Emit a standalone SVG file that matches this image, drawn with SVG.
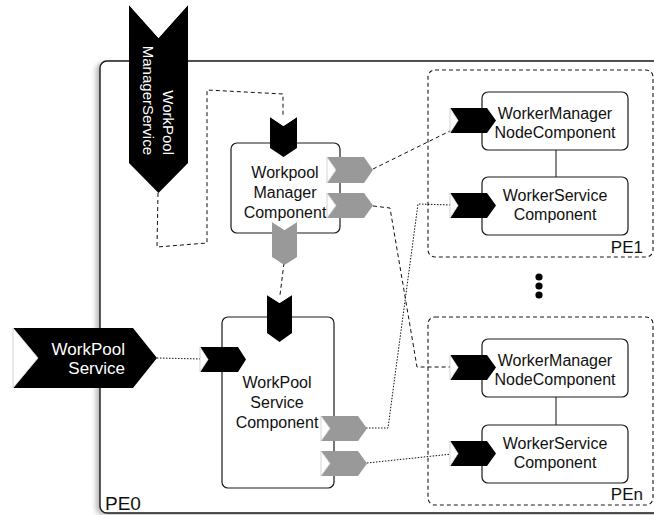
<svg xmlns="http://www.w3.org/2000/svg" width="654" height="515" viewBox="0 0 654 515">
  <style>
    text { font-family: "Liberation Sans", Arial, Helvetica, sans-serif; font-size: 16px; fill: #111; }
    .box { fill: #fff; stroke: #1a1a1a; stroke-width: 1.2; }
    .pe { fill: none; stroke: #1a1a1a; stroke-width: 1.1; stroke-dasharray: 4 3; }
    .port-black { fill: #000; }
    .port-grey { fill: #999; }
    .notch { fill: #fff; stroke: #c8c8c8; stroke-width: 0.8; }
    .dash { fill: none; stroke: #111; stroke-width: 1; stroke-dasharray: 4 3; }
    .dot { fill: none; stroke: #111; stroke-width: 1; stroke-dasharray: 1.5 1.5; }
    .solid { fill: none; stroke: #111; stroke-width: 1; }
    .white { fill: #fff; }
    .label { font-size: 17px; }
    .pe0-label { font-size: 19px; }
    .svc-v { font-size: 15px; }
    .svc-h { font-size: 17px; }
  </style>
  <defs>
    <filter id="shadow" x="-5%" y="-5%" width="110%" height="110%">
      <feGaussianBlur stdDeviation="2.5"/>
    </filter>
  </defs>

  <!-- Outer processing element PE0 -->
  <g id="pe0">
    <rect x="96" y="63" width="580" height="452" rx="7" fill="#888" opacity="0.6" filter="url(#shadow)"/>
    <rect x="100" y="61" width="580" height="452" rx="7" fill="#fff" stroke="#1a1a1a" stroke-width="1.4"/>
    <text x="105" y="510" class="pe0-label">PE0</text>
  </g>

  <!-- Remote processing elements -->
  <g id="pe1">
    <rect class="pe" x="428" y="70" width="225" height="187" rx="7"/>
    <text x="643" y="253" class="label" text-anchor="end">PE1</text>
  </g>
  <g id="pen">
    <rect class="pe" x="428" y="317" width="225" height="188" rx="7"/>
    <text x="643" y="500" class="label" text-anchor="end">PEn</text>
  </g>

  <!-- Ellipsis between PE1 and PEn -->
  <g id="ellipsis">
    <circle cx="539" cy="277" r="3.6" fill="#000"/>
    <circle cx="539" cy="286" r="3.6" fill="#000"/>
    <circle cx="539" cy="295" r="3.6" fill="#000"/>
  </g>

  <!-- Components -->
  <g id="workpool-manager-component">
    <rect class="box" x="231" y="143" width="109" height="90" rx="6"/>
    <text x="285" y="178" text-anchor="middle">Workpool</text>
    <text x="285" y="198" text-anchor="middle">Manager</text>
    <text x="285" y="218" text-anchor="middle">Component</text>
  </g>

  <g id="workpool-service-component">
    <rect class="box" x="222" y="317" width="112" height="171" rx="6"/>
    <text x="277" y="388" text-anchor="middle">WorkPool</text>
    <text x="277" y="408" text-anchor="middle">Service</text>
    <text x="277" y="428" text-anchor="middle">Component</text>
  </g>

  <g id="pe1-worker-manager">
    <rect class="box" x="482" y="92" width="146" height="58" rx="6"/>
    <text x="555" y="119" text-anchor="middle">WorkerManager</text>
    <text x="555" y="138" text-anchor="middle">NodeComponent</text>
  </g>
  <g id="pe1-worker-service">
    <rect class="box" x="482" y="177" width="146" height="58" rx="6"/>
    <text x="555" y="201" text-anchor="middle">WorkerService</text>
    <text x="555" y="220" text-anchor="middle">Component</text>
  </g>

  <g id="pen-worker-manager">
    <rect class="box" x="482" y="339" width="146" height="58" rx="6"/>
    <text x="555" y="366" text-anchor="middle">WorkerManager</text>
    <text x="555" y="385" text-anchor="middle">NodeComponent</text>
  </g>
  <g id="pen-worker-service">
    <rect class="box" x="482" y="425" width="146" height="58" rx="6"/>
    <text x="555" y="449" text-anchor="middle">WorkerService</text>
    <text x="555" y="468" text-anchor="middle">Component</text>
  </g>

  <!-- Connectors -->
  <g id="connectors">
    <path class="solid" d="M556,150 L556,177"/>
    <path class="solid" d="M556,397 L556,425"/>
    <path class="dash" d="M158,193 L157,247 L207,243 L207,90 L283,94 L283,124"/>
    <path class="dash" d="M284,263 L279,303"/>
    <path class="dash" d="M373,169 L452,130"/>
    <path class="dash" d="M373,206 L390,208 L417,367 L452,367"/>
    <path class="dot" d="M360,428 L388,428 L418,204 L452,205"/>
    <path class="dot" d="M367,463 L452,454"/>
    <path class="dot" d="M157,358 L202,359"/>
  </g>

  <!-- Service ports -->
  <g id="workpool-manager-service">
    <polygon class="port-black" points="129,5 158.5,38 188,5 188,163 158.5,193 129,163"/>
    <polygon class="white" points="129,5 158.5,38 188,5"/>
    <g transform="translate(163,155) rotate(90)">
      <text class="white svc-v" text-anchor="end">WorkPool</text>
      <text class="white svc-v" text-anchor="end" y="20">ManagerService</text>
    </g>
  </g>

  <g id="workpool-service">
    <polygon class="port-black" points="13,328 133,328 157,358 133,388 13,388 38,358"/>
    <polygon class="notch" points="13,328 38,358 13,388"/>
    <text class="white svc-h" x="125" y="355" text-anchor="end">WorkPool</text>
    <text class="white svc-h" x="125" y="374" text-anchor="end">Service</text>
  </g>

  <!-- Component ports -->
  <g id="manager-ports">
    <polygon class="port-black" points="270,117 283.5,126 297,117 297,148 283.5,157 270,148"/>
    <polygon class="white" points="270,117 283.5,126 297,117"/>
    <polygon class="port-grey" points="327,157 364,157 373,170 364,183 327,183 336,170"/>
    <polygon class="notch" points="327,157 336,170 327,183"/>
    <polygon class="port-grey" points="327,193 364,193 373,205.5 364,218 327,218 336,205.5"/>
    <polygon class="notch" points="327,193 336,205.5 327,218"/>
    <polygon class="port-grey" points="272,222 284.5,230 297,222 297,257 284.5,265 272,257"/>
    <polygon class="white" points="272,222 284.5,230 297,222"/>
  </g>

  <g id="service-ports">
    <polygon class="port-black" points="267,295 279.5,303 292,295 292,333 279.5,342 267,333"/>
    <polygon class="white" points="267,295 279.5,303 292,295"/>
    <polygon class="port-black" points="200,347 238,347 246,359.5 238,372 200,372 208,359.5"/>
    <polygon class="notch" points="200,347 208,359.5 200,372"/>
    <polygon class="port-grey" points="321,416 358,416 367,428.5 358,441 321,441 330,428.5"/>
    <polygon class="notch" points="321,416 330,428.5 321,441"/>
    <polygon class="port-grey" points="321,451 358,451 367,463.5 358,476 321,476 330,463.5"/>
    <polygon class="notch" points="321,451 330,463.5 321,476"/>
  </g>

  <g id="worker-ports">
    <polygon class="port-black" points="450,108 487,108 496,120.5 487,133 450,133 458,120.5"/>
    <polygon class="notch" points="450,108 458,120.5 450,133"/>
    <polygon class="port-black" points="450,193 487,193 496,205.5 487,218 450,218 458,205.5"/>
    <polygon class="notch" points="450,193 458,205.5 450,218"/>
    <polygon class="port-black" points="450,355 487,355 496,367.5 487,380 450,380 458,367.5"/>
    <polygon class="notch" points="450,355 458,367.5 450,380"/>
    <polygon class="port-black" points="450,441 487,441 496,453.5 487,466 450,466 458,453.5"/>
    <polygon class="notch" points="450,441 458,453.5 450,466"/>
  </g>
</svg>
